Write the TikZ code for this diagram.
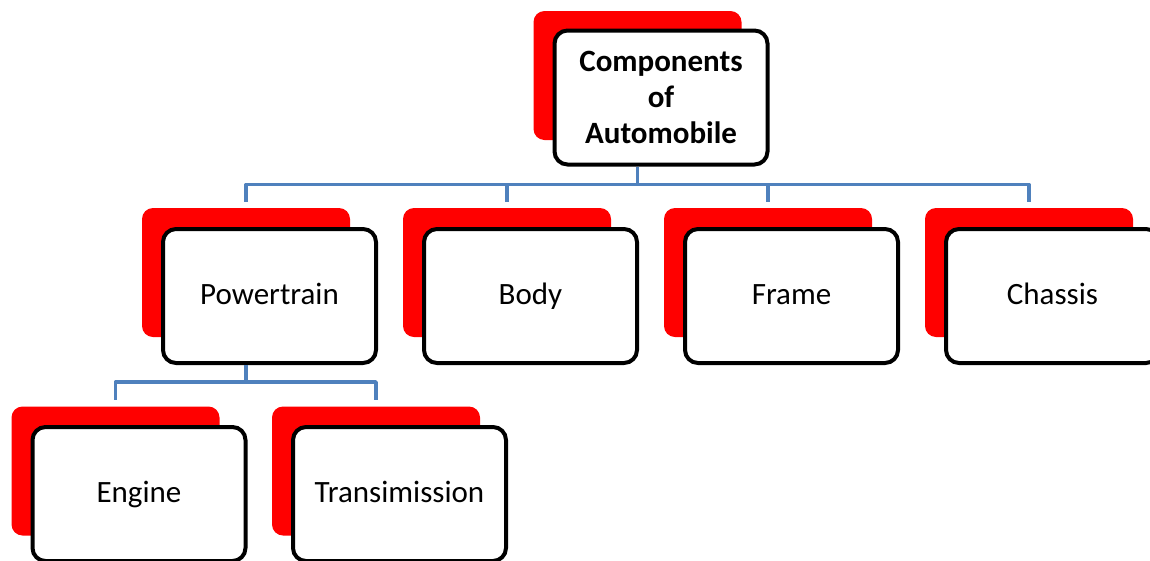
\documentclass[tikz,border=0pt]{standalone}
\usepackage{fontspec}
\setmainfont{Carlito}
\usetikzlibrary{calc}
\tikzset{
  card/.style={draw=black, line width=4pt, fill=white, rounded corners=13pt,
    minimum width=213pt, minimum height=134pt, inner sep=0pt, align=center,
    font=\fontsize{31}{36}\selectfont},
  leaf/.style={card, text height=21pt, text depth=4pt},
  back/.style={fill=red, draw=none, rounded corners=11pt,
    minimum width=208pt, minimum height=129pt, inner sep=0pt},
  conn/.style={draw={rgb,255:red,79;green,129;blue,189}, line width=3.6pt, line join=round}
}
\begin{document}
\begin{tikzpicture}[x=1pt,y=-1pt]
\useasboundingbox (0,0) rectangle (1150,560);

% root
\node[back] (rootsh) at (637.5,75.5) {};
\node[card, font=\fontsize{31}{36}\selectfont\bfseries] (root) at (661,97.5) {Components\\of\\Automobile};

% second level
\node[back] (ptsh) at (246,272.5) {};
\node[leaf] (pt) at (269.5,296) {Powertrain};
\node[back] (bdsh) at (507,272.5) {};
\node[leaf] (bd) at (530.5,296) {Body};
\node[back] (frsh) at (768,272.5) {};
\node[leaf] (fr) at (791.5,296) {Frame};
\node[back] (chsh) at (1029,272.5) {};
\node[leaf] (ch) at (1052.5,296) {Chassis};

% third level
\node[back] (ensh) at (115.5,471) {};
\node[leaf] (en) at (139,494) {Engine};
\node[back] (trsh) at (376,471) {};
\node[leaf] (tr) at (399.5,494) {Transimission};

% connectors from the root
\foreach \c in {ptsh,bdsh,frsh,chsh}
  \draw[conn] (root.south -| rootsh.center) -- ++(0,-18pt) -| ($(\c.north)+(0,6pt)$);

% connectors from Powertrain
\foreach \c in {ensh,trsh}
  \draw[conn] (pt.south -| ptsh.center) -- ++(0,-17pt) -| ($(\c.north)+(0,6pt)$);
\end{tikzpicture}
\end{document}
